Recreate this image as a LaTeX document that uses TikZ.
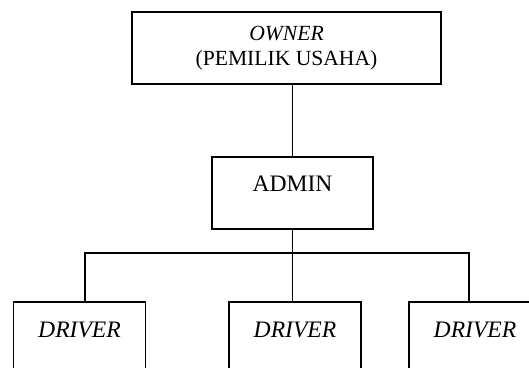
\documentclass[tikz,border=0pt]{standalone}
\usepackage{fontspec}
\setmainfont{Liberation Serif}
\usepackage{tikz}
\usetikzlibrary{positioning,calc}

\begin{document}
\begin{tikzpicture}[
    x=0.5pt, y=-0.5pt,
    box/.style={rectangle, draw, line width=0.9pt, align=center, inner ysep=0pt, font=\fontsize{11.8}{13}\selectfont},
    topbox/.style={box, anchor=north, text height=17.25pt, text depth=18.75pt},
    drvbox/.style={box, anchor=north, minimum width=66pt, text height=17.75pt, text depth=60pt, font=\fontsize{11.8}{13}\selectfont\itshape},
    line/.style={line width=0.9pt}
]
\useasboundingbox (0,0) rectangle (529,368);
\clip (0,0) rectangle (529,368);

% Owner
\node[box, minimum width=154.5pt, minimum height=36pt, font=\fontsize{10.8}{12.5}\selectfont] (owner) at (286.5,48) {\textit{OWNER}\\(PEMILIK USAHA)};

% Admin
\node[topbox, minimum width=80.5pt] (admin) at (292.5,156) {ADMIN};

% Drivers
\node[drvbox] (drv1) at (79.5,301) {DRIVER};
\node[drvbox] (drv2) at (295,301) {DRIVER};
\node[drvbox] (drv3) at (475,301) {DRIVER};

% Bus ends
\coordinate (busl) at (85,253);
\coordinate (busr) at (469,253);

% Lines
\draw[line] (admin.north) -- (admin.north |- owner.south);
\draw[line] (admin.south) -- (admin.south |- drv2.north);
\draw[line] (busl |- drv1.north) -- (busl) -- (busr) -- (busr |- drv3.north);

\end{tikzpicture}
\end{document}
